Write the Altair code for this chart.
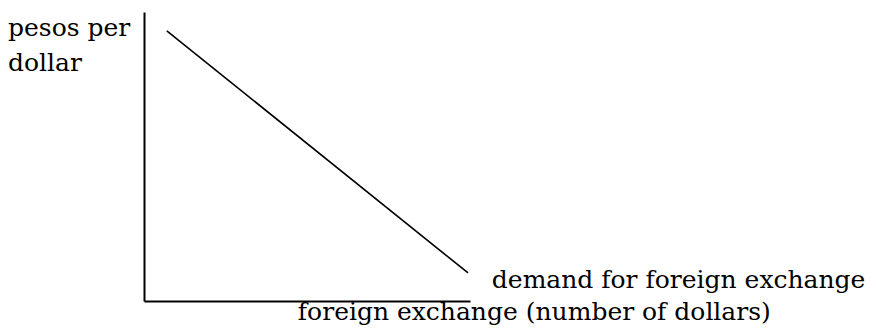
import altair as alt
import pandas as pd

# Demand curve endpoints (quantity of dollars, pesos per dollar), schematic units 0-10
demand_q = [0.7, 9.94]
demand_p = [9.35, 0.97]

# Text labels and their anchor points (data units)
label_text = ["pesos per", "dollar", "demand for foreign exchange", "foreign exchange (number of dollars)"]
label_q = [-4.17, -4.17, 10.67, 4.72]
label_p = [9.17, 7.95, 0.44, -0.65]

demand_df = pd.DataFrame({"q": demand_q, "p": demand_p})
label_df = pd.DataFrame({"text": label_text, "q": label_q, "p": label_p})

FONT = "DejaVu Serif"

xs = alt.Scale(domain=[0, 10], nice=False, zero=False)
ys = alt.Scale(domain=[0, 10], nice=False, zero=False)

ax = alt.Axis(domain=True, ticks=False, labels=False, grid=False, title=None,
              domainColor="black", domainWidth=2)

line = alt.Chart(demand_df).mark_line(color="black", strokeWidth=1.6).encode(
    x=alt.X("q:Q", scale=xs, axis=ax),
    y=alt.Y("p:Q", scale=ys, axis=ax),
)

text = alt.Chart(label_df).mark_text(
    font=FONT, fontSize=25, align="left", baseline="alphabetic", color="black"
).encode(
    x=alt.X("q:Q", scale=xs),
    y=alt.Y("p:Q", scale=ys),
    text="text:N",
)

chart = alt.layer(line, text).properties(
    width=326, height=289,
    background="white",
    autosize=alt.AutoSizeParams(type="none"),
    padding={"left": 136, "top": 4, "right": 398, "bottom": 25},
).configure_view(strokeWidth=0)

chart.save("out.html", embed_options={"renderer": "svg", "actions": False})
